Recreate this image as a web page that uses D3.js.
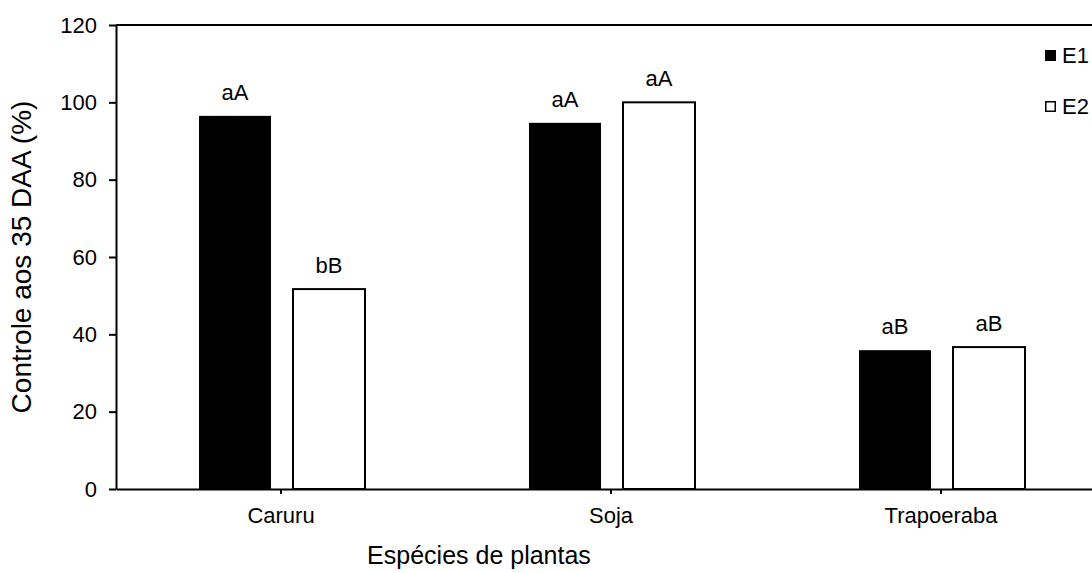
<!DOCTYPE html>
<html>
<head>
<meta charset="utf-8">
<script src="https://cdn.jsdelivr.net/npm/d3@7/dist/d3.min.js"></script>
<style>
  body { margin: 0; background: #fff; }
  svg { display: block; font-family: Arial, "Liberation Sans", sans-serif; }
</style>
</head>
<body>
<svg class="chart"></svg>
<script>
// Chart data.
var categories = ["Caruru", "Soja", "Trapoeraba"];
var seriesNames = ["E1", "E2"];
var e1Values = [96.5, 94.7, 35.9];
var e2Values = [51.7, 100, 36.7];
var e1Letters = ["aA", "aA", "aB"];
var e2Letters = ["bB", "aA", "aB"];
var yTicks = [0, 20, 40, 60, 80, 100, 120];

window.onload = function () {

    var width = 1092;
    var height = 573;
    var font = "Arial, 'Liberation Sans', sans-serif";

    var svg = d3.select("svg.chart")
        .attr("width", width)
        .attr("height", height);

    var x = d3.scaleBand() // the plot runs a bit past the right edge of the picture
        .domain(categories)
        .range([116, 1106]);

    var inner = d3.scaleBand() // offsets of the two bars from the category centre
        .domain(seriesNames)
        .range([-82, 84])
        .paddingInner(0.234)
        .paddingOuter(0.0);

    var y = d3.scaleLinear()
        .domain([0, 120])
        .range([489, 25]);

    var rows = [];
    categories.forEach(function (c, i) {
        rows.push({ cat: c, series: "E1", value: e1Values[i], letter: e1Letters[i] });
        rows.push({ cat: c, series: "E2", value: e2Values[i], letter: e2Letters[i] });
    });

    // top border of the plot box
    svg.append("line")
        .attr("x1", x.range()[0]).attr("x2", x.range()[1])
        .attr("y1", y(120)).attr("y2", y(120))
        .attr("stroke", "#000").attr("stroke-width", 2);

    // bars
    svg.selectAll("rect.bar")
        .data(rows)
        .enter()
        .append("rect")
            .attr("class", "bar")
            .attr("x", function (d) { return x(d.cat) + x.bandwidth() / 2 + inner(d.series); })
            .attr("width", inner.bandwidth())
            .attr("y", function (d) { return y(d.value); })
            .attr("height", function (d) { return y(0) - y(d.value); })
            .attr("fill", function (d) { return d.series === "E1" ? "#000" : "#fff"; })
            .attr("stroke", "#000")
            .attr("stroke-width", function (d) { return d.series === "E1" ? 0 : 2; });

    // significance letters
    svg.selectAll("text.letter")
        .data(rows)
        .enter()
        .append("text")
            .attr("class", "letter")
            .attr("x", function (d) { return x(d.cat) + x.bandwidth() / 2 + inner(d.series) + inner.bandwidth() / 2; })
            .attr("y", function (d) { return y(d.value) - 16; })
            .attr("text-anchor", "middle")
            .attr("font-size", 22)
            .attr("fill", "#000")
            .text(function (d) { return d.letter; });

    // y axis
    var yAxis = svg.append("g")
        .attr("transform", "translate(116,0)")
        .call(d3.axisLeft(y).tickValues(yTicks).tickSize(7).tickPadding(12).tickSizeOuter(0));
    yAxis.select(".domain").attr("stroke-width", 2);
    yAxis.selectAll(".tick line").attr("stroke-width", 2);
    yAxis.selectAll("text").attr("font-size", 22).attr("fill", "#000").attr("font-family", font);

    // x axis
    var xAxis = svg.append("g")
        .attr("transform", "translate(0,489)")
        .call(d3.axisBottom(x).tickSize(5).tickPadding(13).tickSizeOuter(0));
    xAxis.select(".domain").attr("stroke-width", 2);
    xAxis.selectAll(".tick line").attr("stroke-width", 2);
    xAxis.selectAll("text").attr("font-size", 22).attr("fill", "#000").attr("font-family", font);

    // axis titles
    svg.append("text")
        .attr("transform", "translate(31,257) rotate(-90)")
        .attr("text-anchor", "middle")
        .attr("font-size", 28)
        .text("Controle aos 35 DAA (%)");

    svg.append("text")
        .attr("x", 479)
        .attr("y", 564)
        .attr("text-anchor", "middle")
        .attr("font-size", 25)
        .text("Espécies de plantas");

    // legend
    var legend = svg.selectAll("g.legend")
        .data(seriesNames)
        .enter()
        .append("g")
            .attr("class", "legend")
            .attr("transform", function (d, i) { return "translate(1045," + (50 + i * 51) + ")"; });

    legend.append("rect")
        .attr("x", 0.75).attr("y", 0.75)
        .attr("width", 9.5).attr("height", 9.5)
        .attr("fill", function (d) { return d === "E1" ? "#000" : "#fff"; })
        .attr("stroke", "#000")
        .attr("stroke-width", 1.5);

    legend.append("text")
        .attr("x", 17)
        .attr("y", 13)
        .attr("font-size", 22)
        .text(function (d) { return d; });
};
</script>
</body>
</html>
